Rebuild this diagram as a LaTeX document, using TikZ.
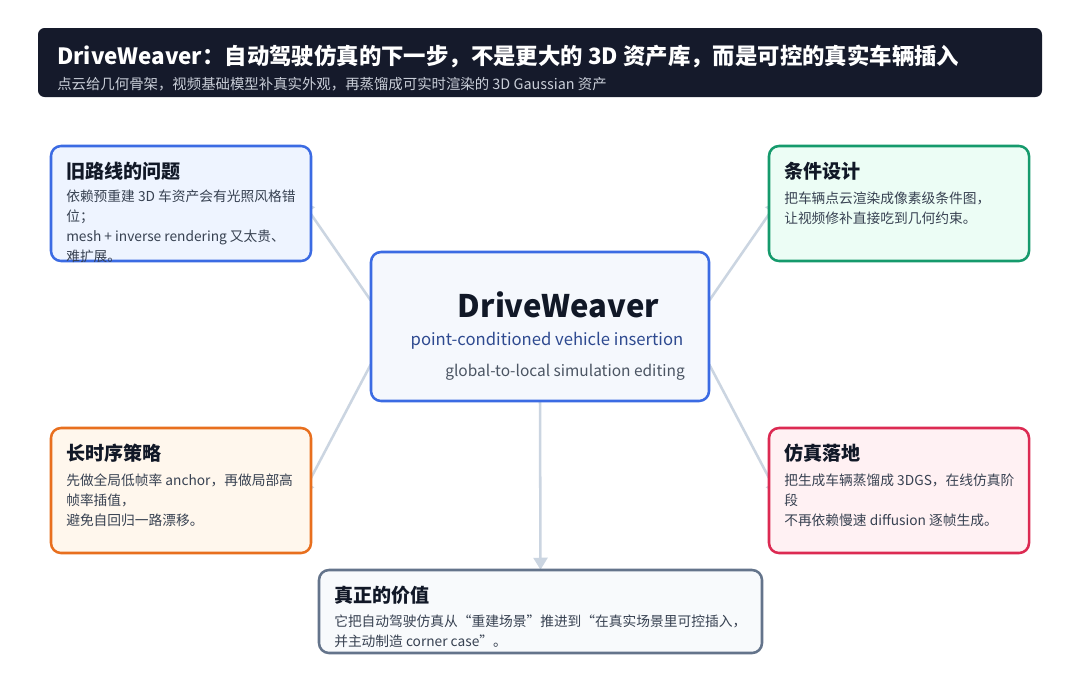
\documentclass[tikz,border=0pt]{standalone}
\usepackage{fontspec}
\setmainfont{Noto Sans CJK SC}
\usetikzlibrary{arrows.meta,calc}
\definecolor{barbg}{HTML}{151A2B}
\definecolor{subtxt}{HTML}{C9CED8}
\definecolor{ink}{HTML}{111827}
\definecolor{body}{HTML}{374151}
\definecolor{conn}{HTML}{CBD5E1}
\definecolor{bluebd}{HTML}{3B6BE3}
\definecolor{bluebg}{HTML}{EEF4FF}
\definecolor{greenbd}{HTML}{159A6C}
\definecolor{greenbg}{HTML}{ECFDF5}
\definecolor{orangebd}{HTML}{E86F1E}
\definecolor{orangebg}{HTML}{FFF7ED}
\definecolor{redbd}{HTML}{DC2A52}
\definecolor{redbg}{HTML}{FFF1F3}
\definecolor{ctrbg}{HTML}{F5F8FD}
\definecolor{slatebd}{HTML}{64748B}
\definecolor{slatebg}{HTML}{F8FAFC}
\definecolor{subblue}{HTML}{2E4A90}
\definecolor{greytxt}{HTML}{4B5563}
\begin{document}
\begin{tikzpicture}[x=0.75pt,y=-0.75pt,
  card/.style n args={2}{draw=#1,fill=#2,line width=1.9pt,rounded corners=7.5pt,inner sep=0pt},
  conline/.style={draw=conn,line width=1.9pt,-{Triangle[width=10.5pt,length=9pt]}},
  cardtitle/.style={anchor=west,inner sep=0pt,text=ink,font=\fontsize{14.3}{16}\selectfont\bfseries},
  cardbody/.style={anchor=north west,inner sep=0pt,text=body,align=left,font=\fontsize{10.3}{14.8}\selectfont}]
\useasboundingbox[fill=white] (0,0) rectangle (1080,689);

% title bar
\node[fill=barbg,rounded corners=5pt,minimum width=753pt,minimum height=51.75pt,inner sep=0pt] (bar) at (540,62.5) {};
\node[anchor=west,inner sep=0pt,text=white,font=\fontsize{16.8}{18}\selectfont\bfseries] (bartitle) at (57,56) {DriveWeaver：自动驾驶仿真的下一步，不是更大的 3D 资产库，而是可控的真实车辆插入};
\node[anchor=west,inner sep=0pt,text=subtxt,font=\fontsize{10.8}{12}\selectfont] (barsub) at (57,84) {点云给几何骨架，视频基础模型补真实外观，再蒸馏成可实时渲染的 3D Gaussian 资产};

% box centres
\coordinate (ptl) at (181,203.5);
\coordinate (ptr) at (899,203.5);
\coordinate (pbl) at (181,490.5);
\coordinate (pbr) at (899,490.5);
\coordinate (pctr) at (540,326.5);
\coordinate (pbot) at (540.5,611.5);

% invisible outlines for connector ends
\path (pctr) node[minimum width=253.5pt,minimum height=111.75pt,inner sep=0pt] (ctrshape) {};
\path (ptl) node[minimum width=195pt,minimum height=86.25pt,inner sep=0pt] (tlshape) {};
\path (ptr) node[minimum width=195pt,minimum height=86.25pt,inner sep=0pt] (trshape) {};
\path (pbl) node[minimum width=195pt,minimum height=93.75pt,inner sep=0pt] (blshape) {};
\path (pbr) node[minimum width=195pt,minimum height=93.75pt,inner sep=0pt] (brshape) {};
\path (pbot) node[minimum width=332.25pt,minimum height=62.25pt,inner sep=0pt] (botshape) {};

% connectors (drawn first, boxes cover the side tips)
\draw[conline] ($(ctrshape.west)+(0,-26)$) -- ($(tlshape.east)+(-9,-2)$);
\draw[conline] ($(ctrshape.east)+(0,-26)$) -- ($(trshape.west)+(9,-2)$);
\draw[conline] ($(ctrshape.west)+(0,38)$) -- ($(blshape.east)+(-9,4)$);
\draw[conline] ($(ctrshape.east)+(0,38)$) -- ($(brshape.west)+(9,4)$);
\draw[conline] (ctrshape.south) -- (botshape.north);

% cards
\node[card={bluebd}{bluebg},minimum width=195pt,minimum height=86.25pt] (tl) at (ptl) {};
\node[card={greenbd}{greenbg},minimum width=195pt,minimum height=86.25pt] (tr) at (ptr) {};
\node[card={orangebd}{orangebg},minimum width=195pt,minimum height=93.75pt] (bl) at (pbl) {};
\node[card={redbd}{redbg},minimum width=195pt,minimum height=93.75pt] (br) at (pbr) {};
\node[card={bluebd}{ctrbg},minimum width=253.5pt,minimum height=111.75pt] (ctr) at (pctr) {};
\node[card={slatebd}{slatebg},minimum width=332.25pt,minimum height=62.25pt] (bot) at (pbot) {};

% center text
\node[inner sep=0pt,text=ink,font=\fontsize{23.3}{25}\selectfont\bfseries] (ctitle) at (558.5,305) {DriveWeaver};
\node[inner sep=0pt,text=subblue,font=\fontsize{12.5}{14}\selectfont] (csub) at (547,341) {point-conditioned vehicle insertion};
\node[inner sep=0pt,text=greytxt,font=\fontsize{11.6}{13}\selectfont,anchor=east] (cnote) at (685,372) {global-to-local simulation editing};

% card texts
\node[cardtitle] (tlt) at (66,171) {旧路线的问题};
\node[cardbody] (tlb) at (66,190) {依赖预重建 3D 车资产会有光照风格错\\位；\\mesh + inverse rendering 又太贵、\\难扩展。};

\node[cardtitle] (trt) at (784,171) {条件设计};
\node[cardbody] (trb) at (784,192) {把车辆点云渲染成像素级条件图，\\让视频修补直接吃到几何约束。};

\node[cardtitle] (blt) at (66,453) {长时序策略};
\node[cardbody] (blb) at (66,474) {先做全局低帧率 anchor，再做局部高\\帧率插值，\\避免自回归一路漂移。};

\node[cardtitle] (brt) at (784,453) {仿真落地};
\node[cardbody] (brb) at (784,474) {把生成车辆蒸馏成 3DGS，在线仿真阶\\段\\不再依赖慢速 diffusion 逐帧生成。};

\node[cardtitle] (bott) at (334,595) {真正的价值};
\node[cardbody] (botb) at (334,615) {它把自动驾驶仿真从“重建场景”推进到“在真实场景里可控插入，\\并主动制造 corner case”。};
\end{tikzpicture}
\end{document}
